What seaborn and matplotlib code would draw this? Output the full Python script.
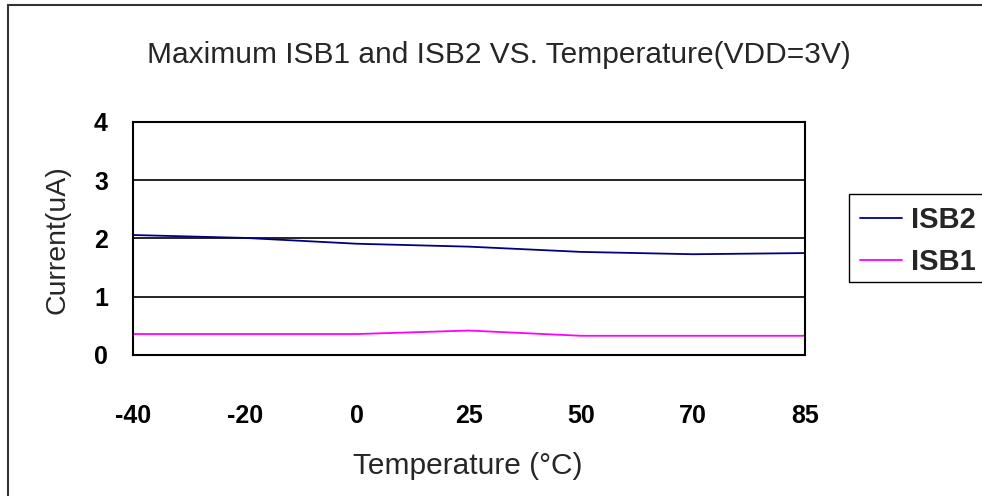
import numpy as np
import pandas as pd
import matplotlib
matplotlib.use("Agg")
import matplotlib.pyplot as plt
from matplotlib.lines import Line2D
from matplotlib.patches import Rectangle
import seaborn as sns

temps = ["-40", "-20", "0", "25", "50", "70", "85"]
isb2 = [2.06, 2.01, 1.91, 1.86, 1.77, 1.73, 1.75]
isb1 = [0.36, 0.36, 0.36, 0.42, 0.33, 0.33, 0.33]

sns.set_style("white")
plt.rcParams["font.family"] = ["Liberation Sans", "DejaVu Sans"]

W, H = 982, 496
fig = plt.figure(figsize=(W / 100, H / 100), dpi=100)
ax = fig.add_axes([133 / W, 1 - 355 / H, (805 - 133) / W, (355 - 122) / H])

df = pd.DataFrame({
    "pos": list(range(len(temps))) * 2,
    "value": isb2 + isb1,
    "series": ["ISB2"] * len(temps) + ["ISB1"] * len(temps),
})
palette = {"ISB2": "#000080", "ISB1": "#ff00ff"}
sns.lineplot(data=df, x="pos", y="value", hue="series", palette=palette,
             linewidth=1.3, ax=ax, legend=False)

ax.set_xlim(0, len(temps) - 1)
ax.set_ylim(0, 4)
ax.set_xticks(range(len(temps)))
ax.set_xticklabels(temps)
ax.set_yticks([0, 1, 2, 3, 4])
ax.set_xlabel("")
ax.set_ylabel("")
for y in [1, 2, 3]:
    ax.axhline(y, color="black", linewidth=1.2, zorder=0)
for s in ax.spines.values():
    s.set_visible(True)
    s.set_color("black")
    s.set_linewidth(1.5)
ax.tick_params(axis="x", direction="in", length=8, width=1.2, pad=35,
               labelsize=18, colors="black")
ax.tick_params(axis="y", direction="in", length=8, width=1.2, pad=18,
               labelsize=18, colors="black")
for lab in ax.get_xticklabels() + ax.get_yticklabels():
    lab.set_fontweight("bold")

fig.text(499 / W, 1 - 55 / H, "Maximum ISB1 and ISB2 VS. Temperature(VDD=3V)",
         ha="center", va="center", fontsize=21.5)
fig.text(468 / W, 1 - 466 / H, "Temperature (°C)", ha="center", va="center",
         fontsize=21.5)
fig.text(57 / W, 1 - 240 / H, "Current(uA)", ha="center", va="center",
         rotation=90, fontsize=20.5)

# legend frame runs past the right edge, as in the source image
fig.add_artist(Rectangle((849 / W, 1 - 282 / H), 150 / W, 88 / H,
                         transform=fig.transFigure, fill=False,
                         edgecolor="black", linewidth=1.0))
handles = [Line2D([], [], color=palette["ISB2"], linewidth=1.3),
           Line2D([], [], color=palette["ISB1"], linewidth=1.3)]
leg = fig.legend(handles, ["ISB2", "ISB1"], loc="upper left",
                 bbox_to_anchor=(857 / W, 1 - 203 / H), frameon=False,
                 handlelength=1.45, handletextpad=0.3, borderpad=0.1,
                 borderaxespad=0, labelspacing=0.5,
                 prop={"size": 21, "weight": "bold"})

fig.add_artist(Line2D([8 / W, 8 / W], [0, 1 - 5 / H], transform=fig.transFigure,
                      color="#333333", linewidth=1.5))
fig.add_artist(Line2D([8 / W, 1], [1 - 5 / H, 1 - 5 / H], transform=fig.transFigure,
                      color="#333333", linewidth=1.5))

fig.savefig("out.png", dpi=100)
